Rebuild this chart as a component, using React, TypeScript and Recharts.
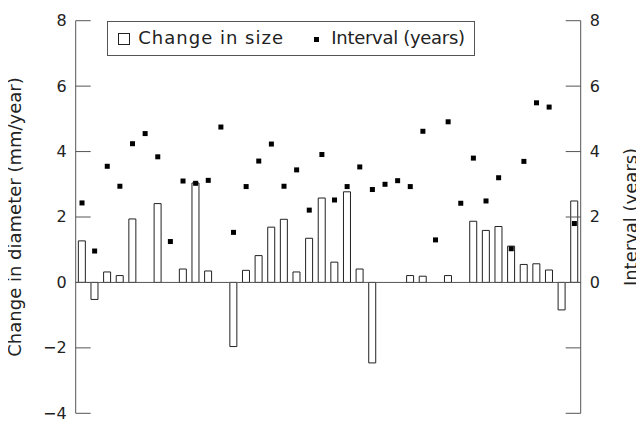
import {
  ComposedChart,
  Bar,
  Scatter,
  XAxis,
  YAxis,
  ReferenceLine,
  Label,
} from 'recharts'

const visits = [
  1, 2, 3, 4, 5, 6, 7, 8, 9, 10, 11, 12, 13, 14, 15, 16, 17, 18, 19, 20,
  21, 22, 23, 24, 25, 26, 27, 28, 29, 30, 31, 32, 33, 34, 35, 36, 37, 38, 39, 40,
]

// mm/year, null where no bar was drawn
const changeInSize = [
  1.27, -0.52, 0.32, 0.21, 1.94, null, 2.41, null, 0.41, 3.04,
  0.35, null, -1.96, 0.37, 0.82, 1.69, 1.93, 0.32, 1.35, 2.58,
  0.62, 2.77, 0.41, -2.46, null, null, 0.21, 0.19, null, 0.21,
  null, 1.87, 1.59, 1.71, 1.11, 0.55, 0.57, 0.38, -0.84, 2.49,
]

// years
const interval = [
  2.43, 0.96, 3.55, 2.94, 4.24, 4.55, 3.84, 1.25, 3.1, 3.03,
  3.12, 4.75, 1.53, 2.93, 3.71, 4.23, 2.94, 3.44, 2.21, 3.91,
  2.52, 2.93, 3.53, 2.84, 3.0, 3.11, 2.93, 4.62, 1.3, 4.91,
  2.42, 3.8, 2.49, 3.2, 1.03, 3.7, 5.49, 5.36, null, 1.8,
]

const leftTicks = [-4, -2, 0, 2, 4, 6, 8]
const rightTicks = [-4, -2, 0, 2, 4, 6, 8]

const data = visits.map((v, i) => ({
  visit: v,
  change: changeInSize[i],
  interval: interval[i],
}))

const FONT = '"DejaVu Sans", sans-serif'
const AXIS = '#555'
const INK = '#222'
const TICK_GAP = 9
const TICK_LEN = 15

const fmt = (v: number) => String(v).replace('-', '\u2212')

function LeftTick(props: any) {
  const { x, y, payload } = props
  return (
    <g>
      <line x1={x + TICK_GAP} x2={x + TICK_GAP + TICK_LEN} y1={y} y2={y} stroke={AXIS} />
      <text x={x} y={y} dy="0.34em" textAnchor="end" fontSize={16} fill={INK} fontFamily={FONT}>
        {fmt(payload.value)}
      </text>
    </g>
  )
}

function RightTick(props: any) {
  const { x, y, payload } = props
  return (
    <g>
      <line x1={x - TICK_GAP} x2={x - TICK_GAP - TICK_LEN} y1={y} y2={y} stroke={AXIS} />
      {payload.value >= 0 && (
        <text x={x} y={y} dy="0.34em" textAnchor="start" fontSize={16} fill={INK} fontFamily={FONT}>
          {fmt(payload.value)}
        </text>
      )}
    </g>
  )
}

function Dot(props: any) {
  const { cx, cy, payload } = props
  if (payload == null || payload.interval == null || !Number.isFinite(cy)) return null
  return <rect x={cx - 2.5} y={cy - 2.5} width={5} height={5} fill="#000" />
}

export default function App() {
  return (
    <div style={{ position: 'relative', width: 644, height: 421, margin: '-8px 0 0 -8px' }}>
      <ComposedChart
        width={644}
        height={421}
        data={data}
        margin={{ top: 20.7, right: 3.3, bottom: 7.7, left: 15.7 }}
        barCategoryGap="21%"
      >
        <XAxis dataKey="visit" height={0} tick={false} tickLine={false} axisLine={{ stroke: AXIS }} />
        <YAxis
          yAxisId="left"
          width={60}
          domain={[-4, 8]}
          ticks={leftTicks}
          tickLine={false}
          tickSize={0}
          tickMargin={TICK_GAP}
          tick={<LeftTick />}
          axisLine={{ stroke: AXIS }}
          interval={0}
        >
          <Label
            value="Change in diameter (mm/year)"
            angle={-90}
            position="insideLeft"
            offset={-1}
            style={{ textAnchor: 'middle', fontSize: 18, fontFamily: FONT, fill: INK }}
          />
        </YAxis>
        <YAxis
          yAxisId="right"
          orientation="right"
          width={60}
          domain={[-4, 8]}
          ticks={rightTicks}
          tickLine={false}
          tickSize={0}
          tickMargin={TICK_GAP}
          tick={<RightTick />}
          axisLine={{ stroke: AXIS }}
          interval={0}
        >
          <Label
            value="Interval (years)"
            angle={-90}
            position="insideRight"
            offset={10}
            style={{ textAnchor: 'middle', fontSize: 18, fontFamily: FONT, fill: INK }}
          />
        </YAxis>
        <ReferenceLine yAxisId="left" y={0} stroke={AXIS} />
        <Bar
          yAxisId="left"
          dataKey="change"
          fill="#fff"
          stroke={INK}
          strokeWidth={1}
          isAnimationActive={false}
        />
        <Scatter yAxisId="right" dataKey="interval" shape={<Dot />} isAnimationActive={false} />
      </ComposedChart>

      <div
        style={{
          position: 'absolute',
          left: 107.3,
          top: 21,
          width: 368,
          height: 35,
          boxSizing: 'border-box',
          border: `1px solid ${AXIS}`,
          background: '#fff',
          fontFamily: FONT,
          fontSize: 18,
          color: INK,
        }}
      >
        <div
          style={{
            position: 'absolute',
            left: 10,
            top: 10.5,
            width: 12,
            height: 12,
            boxSizing: 'border-box',
            border: `1.5px solid ${INK}`,
          }}
        />
        <span style={{ position: 'absolute', left: 30, top: 5, letterSpacing: 1, whiteSpace: 'nowrap' }}>
          Change in size
        </span>
        <div
          style={{
            position: 'absolute',
            left: 206,
            top: 14.5,
            width: 5,
            height: 5,
            background: '#000',
          }}
        />
        <span style={{ position: 'absolute', left: 223, top: 5, letterSpacing: -0.3, whiteSpace: 'nowrap' }}>
          Interval (years)
        </span>
      </div>
    </div>
  )
}
